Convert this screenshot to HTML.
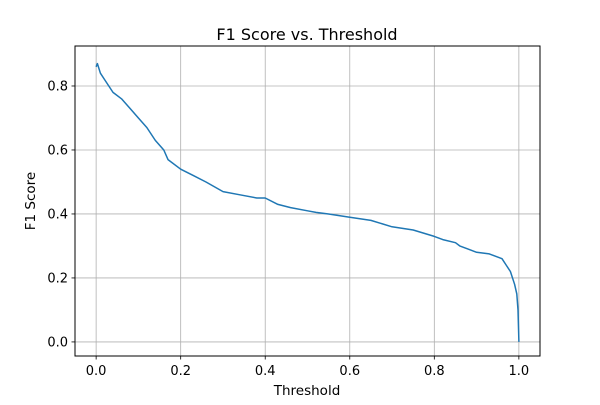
<!DOCTYPE html>
<html><head><meta charset="utf-8"><style>
body{margin:0;background:#fff;font-family:"Liberation Sans","DejaVu Sans",sans-serif;}
svg text{font-family:"DejaVu Sans","Liberation Sans",sans-serif;}
</style></head><body>
<svg id="chart" width="600" height="400" xmlns="http://www.w3.org/2000/svg">
<rect width="600" height="400" fill="#fff"/>
<g id="grid"></g>
<g id="ticks"></g>
<path id="line" fill="none" stroke="#1f77b4" stroke-width="1.5" stroke-linejoin="round"/>
<rect x="75" y="46" width="465" height="310" fill="none" stroke="#000" stroke-width="1"/>
<text x="307" y="40" font-size="16" text-anchor="middle">F1 Score vs. Threshold</text>
<text x="307" y="395" font-size="13.5" text-anchor="middle">Threshold</text>
<text x="0" y="0" font-size="13.5" text-anchor="middle" transform="translate(35,201) rotate(-90)">F1 Score</text>
</svg>
<script>
const thresholds=[0,0.003,0.01,0.02,0.03,0.04,0.06,0.08,0.1,0.12,0.14,0.16,0.17,0.2,0.23,0.26,0.3,0.34,0.38,0.4,0.43,0.46,0.5,0.52,0.55,0.6,0.65,0.7,0.75,0.8,0.82,0.85,0.86,0.88,0.9,0.93,0.95,0.96,0.97,0.98,0.99,0.995,0.998,1.0];
const f1Scores=[0.86,0.87,0.84,0.82,0.80,0.78,0.76,0.73,0.70,0.67,0.63,0.60,0.57,0.54,0.52,0.50,0.47,0.46,0.45,0.45,0.43,0.42,0.41,0.405,0.40,0.39,0.38,0.36,0.35,0.33,0.32,0.31,0.30,0.29,0.28,0.275,0.265,0.26,0.24,0.22,0.18,0.15,0.10,0.0];
const xTicks=[0,0.2,0.4,0.6,0.8,1.0];
const xTickLabels=["0.0","0.2","0.4","0.6","0.8","1.0"];
const yTicks=[0,0.2,0.4,0.6,0.8];
const yTickLabels=["0.0","0.2","0.4","0.6","0.8"];
const L=75,R=540,T=46,B=356;
const xMin=-0.05,xMax=1.05,yMin=-0.044,yMax=0.925;
const sx=v=>L+(v-xMin)/(xMax-xMin)*(R-L);
const sy=v=>B-(v-yMin)/(yMax-yMin)*(B-T);
const NS="http://www.w3.org/2000/svg";
const grid=document.getElementById('grid'),ticks=document.getElementById('ticks');
function mk(tag,attrs,parent){const e=document.createElementNS(NS,tag);for(const k in attrs)e.setAttribute(k,attrs[k]);parent.appendChild(e);return e;}
xTicks.forEach((v,i)=>{const x=sx(v);
 const g=mk('line',{x1:x,x2:x,y1:T,y2:B,stroke:'#b0b0b0','stroke-width':0.8},grid);
 
 
 const t=mk('line',{x1:x,x2:x,y1:B,y2:B+3.5,stroke:'#000','stroke-width':0.8},ticks);
 
 
 const l=mk('text',{x:x,y:B+19,'font-size':13,'text-anchor':'middle'},ticks);l.textContent=xTickLabels[i];
 
 
});
yTicks.forEach((v,i)=>{const y=sy(v);
 const g=mk('line',{x1:L,x2:R,y1:y,y2:y,stroke:'#b0b0b0','stroke-width':0.8},grid);
 
 
 const t=mk('line',{x1:L-3.5,x2:L,y1:y,y2:y,stroke:'#000','stroke-width':0.8},ticks);
 
 
 const l=mk('text',{x:L-7,y:y+4.5,'font-size':13,'text-anchor':'end'},ticks);l.textContent=yTickLabels[i];
 
 
});
document.getElementById('line').setAttribute('d',thresholds.map((v,i)=>(i?'L':'M')+sx(v).toFixed(1)+','+sy(f1Scores[i]).toFixed(1)).join(''));
</script>
</body></html>
